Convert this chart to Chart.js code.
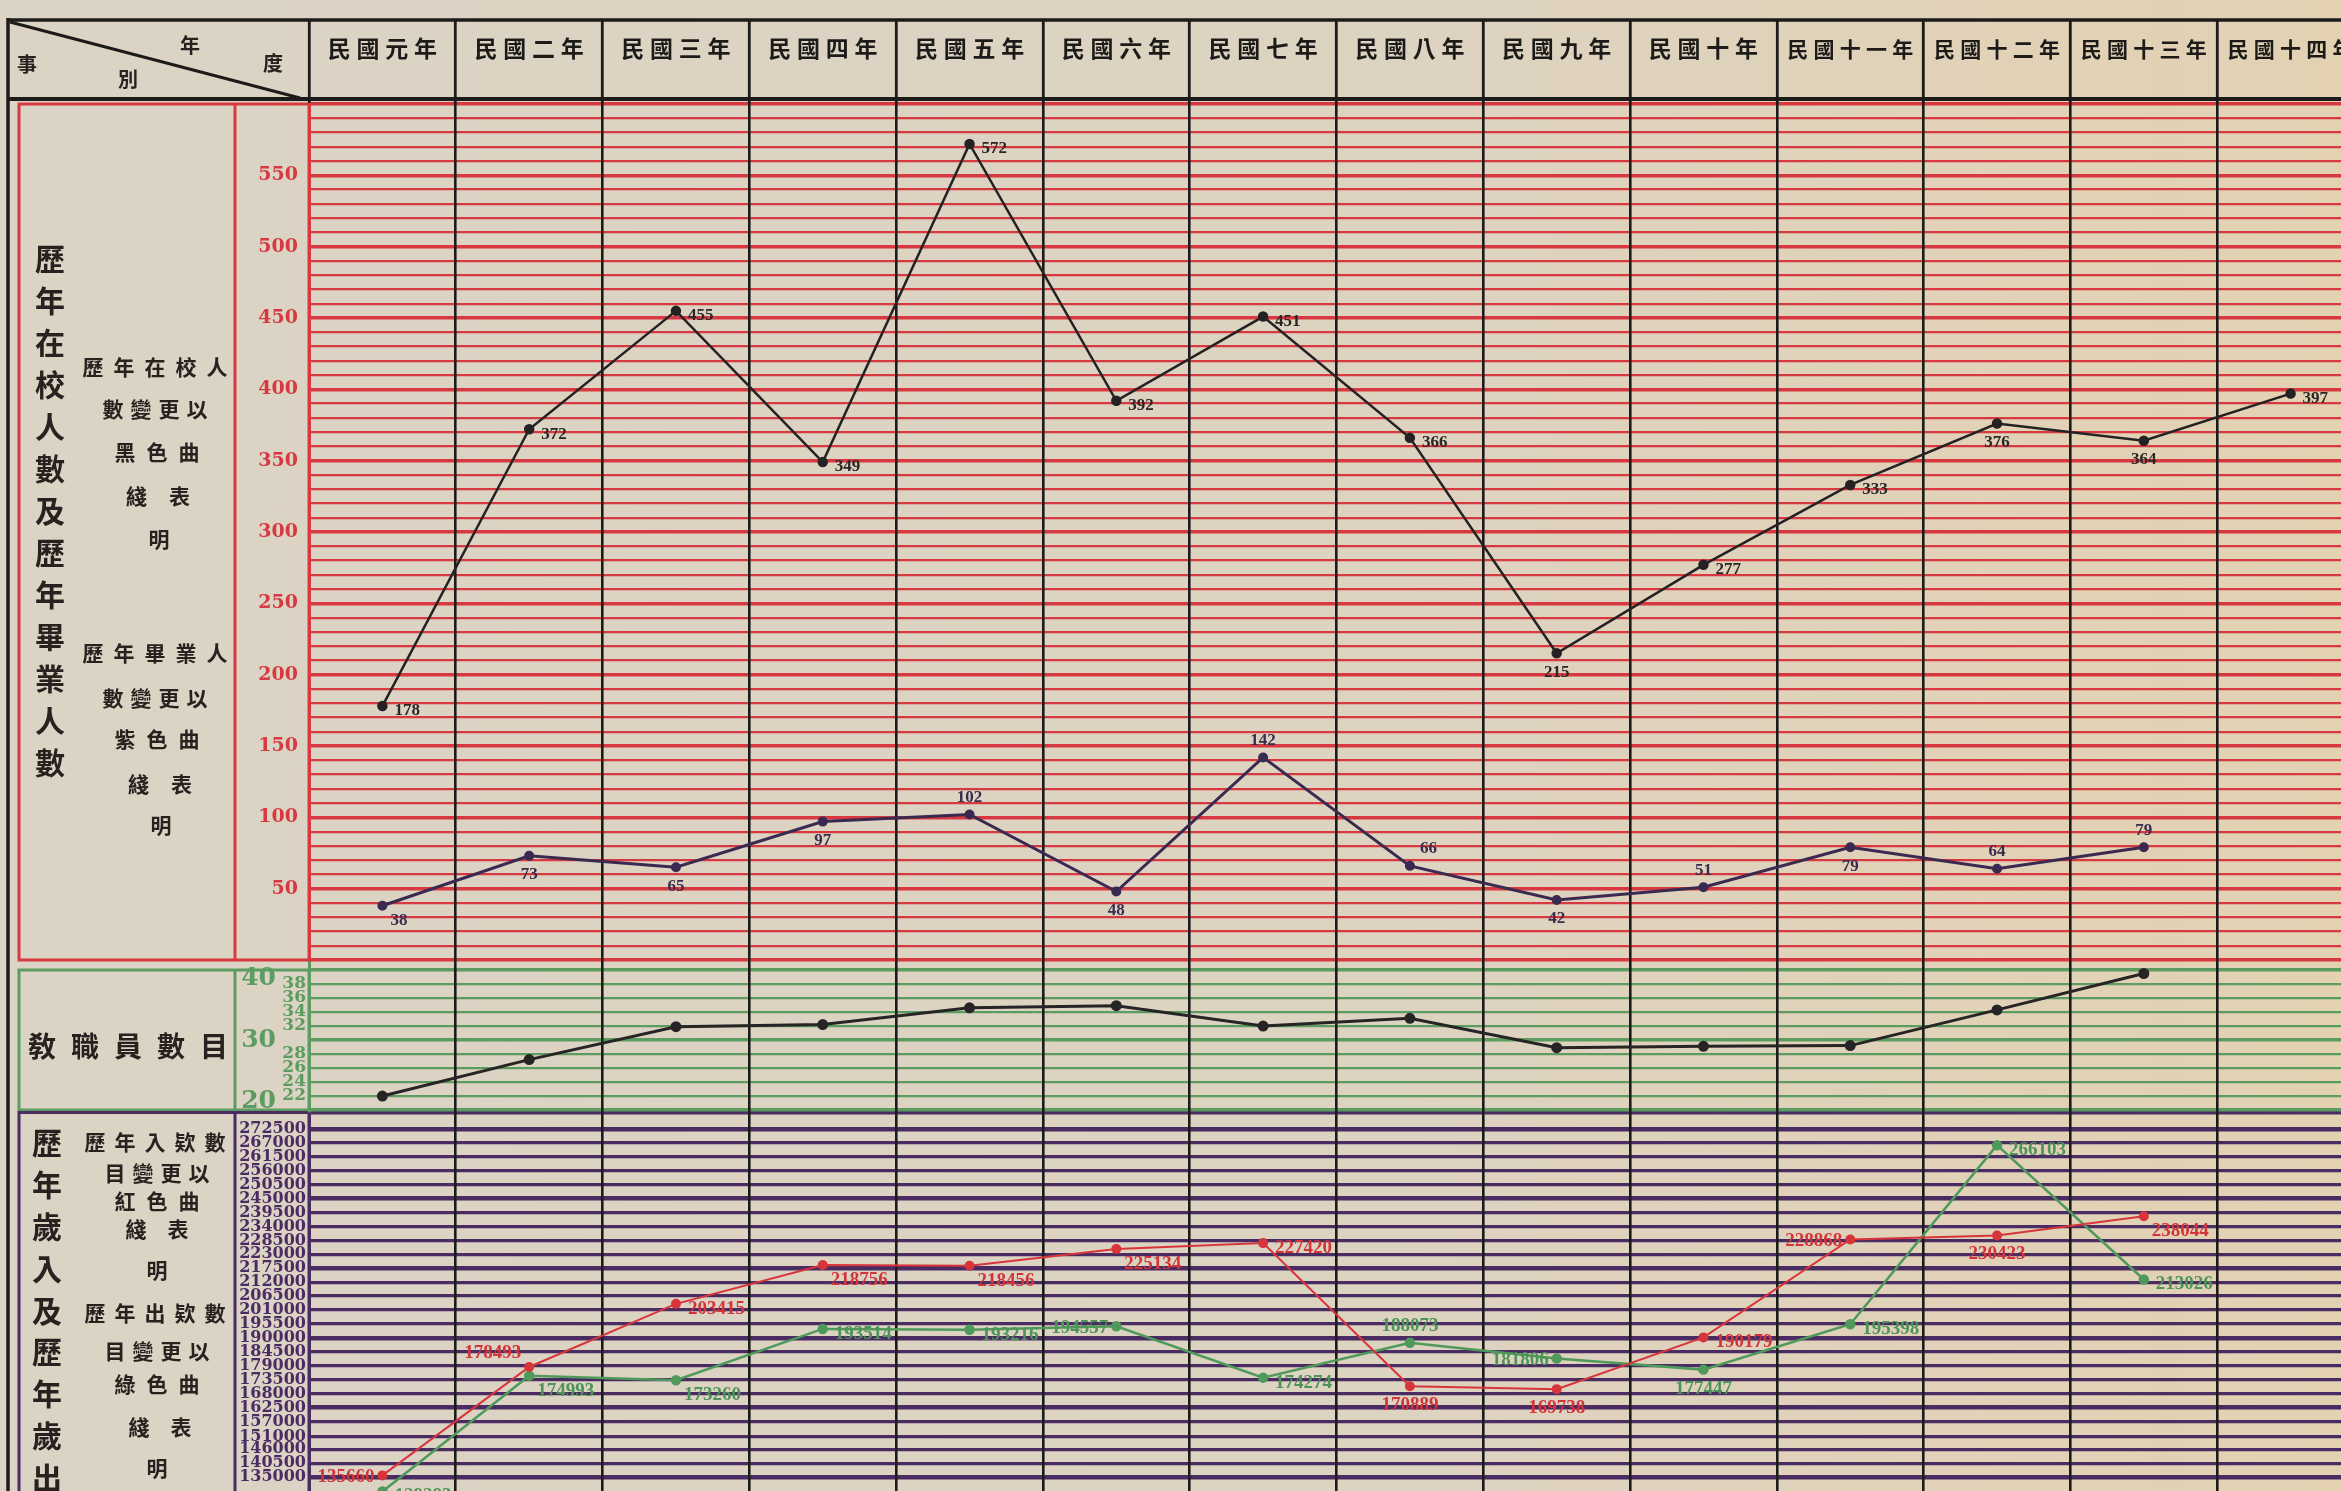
<!DOCTYPE html>
<html lang="zh-Hant">
<head>
<meta charset="utf-8">
<title>歷年在校人數及歷年畢業人數</title>
<script src="https://cdn.jsdelivr.net/npm/chart.js@4.4.1/dist/chart.umd.min.js"></script>
<style>
  html, body { margin: 0; padding: 0; width: 2341px; height: 1491px; overflow: hidden; }
  body { background: linear-gradient(90deg, #dbd3c4 0%, #ddd3c1 60%, #e3d1b2 100%); }
  #wrap { position: relative; width: 2341px; height: 1491px; overflow: hidden; }
  #chart { position: absolute; left: 0; top: 0; }
  .txt { position: absolute; font-family: "Noto Sans CJK TC", sans-serif; font-weight: 700;
         color: #27221f; white-space: nowrap; line-height: 1; }
</style>
</head>
<body>
<div id="wrap">
  <canvas id="chart" width="2380" height="1491"></canvas>
</div>
<script>
// 年度
const years = ['民國元年', '民國二年', '民國三年', '民國四年', '民國五年', '民國六年', '民國七年',
               '民國八年', '民國九年', '民國十年', '民國十一年', '民國十二年', '民國十三年', '民國十四年'];

// 歷年在校人數 (黑色曲綫)
const enrolled = [178, 372, 455, 349, 572, 392, 451, 366, 215, 277, 333, 376, 364, 397];
// 歷年畢業人數 (紫色曲綫)
const graduates = [38, 73, 65, 97, 102, 48, 142, 66, 42, 51, 79, 64, 79];
// 敎職員數目
const staff = [22, 27.2, 31.9, 32.2, 34.6, 34.9, 32, 33.1, 28.9, 29.1, 29.2, 34.3, 39.5];
// 歷年入欵數 (紅色曲綫)
const income = [135660, 178493, 203415, 218756, 218456, 225134, 227420, 170889, 169738, 190179, 228868, 230423, 238044];
// 歷年出欵數 (綠色曲綫)
const expenditure = [129283, 174993, 173260, 193514, 193216, 194557, 174274, 188073, 181806, 177447, 195398, 266103, 213026];

// 刻度
const enrollTicks = ['50', '100', '150', '200', '250', '300', '350', '400', '450', '500', '550'];
const staffTicks = ['20', '22', '24', '26', '28', '30', '32', '34', '36', '38', '40'];
const moneyTicks = ['135000', '140500', '146000', '151000', '157000', '162500', '168000', '173500', '179000',
                    '184500', '190000', '195500', '201000', '206500', '212000', '217500', '223000', '228500',
                    '234000', '239500', '245000', '250500', '256000', '261500', '267000', '272500'];

const ink = '#1d1b1a';
const red = '#d8383f';
const green = '#5c9c60';
const purple = '#4a2b62';

// 左側文字
const wrap = document.getElementById('wrap');
function put(text, x, y, size, gap, vertical) {
  const d = document.createElement('div');
  d.className = 'txt';
  d.textContent = text;
  d.style.fontSize = size + 'px';
  d.style.letterSpacing = gap + 'px';
  if (vertical) {
    d.style.writingMode = 'vertical-rl';
    d.style.left = (x - size / 2) + 'px';
    d.style.top = (y - size / 2) + 'px';
  } else {
    d.style.left = x + 'px';
    d.style.top = y + 'px';
    d.style.paddingLeft = gap + 'px';
    d.style.transform = 'translate(-50%, -50%)';
  }
  wrap.appendChild(d);
}

put('年', 190, 45, 20, 0);
put('度', 273, 63, 20, 0);
put('事', 27, 64, 20, 0);
put('別', 128, 79, 20, 0);

put('歷年在校人數及歷年畢業人數', 50, 259, 30, 12, true);
put('歷年在校人', 155, 366, 21, 10);
put('數變更以', 155, 408, 21, 7);
put('黑色曲', 157, 451, 21, 11);
put('綫表', 158, 495, 21, 22);
put('明', 159, 538, 21, 0);
put('歷年畢業人', 155, 652, 21, 10);
put('數變更以', 155, 697, 21, 7);
put('紫色曲', 157, 738, 21, 11);
put('綫表', 160, 783, 21, 22);
put('明', 161, 824, 21, 0);

put('敎職員數目', 128, 1045, 28, 15);

put('歷年歲入及歷年歲出', 47, 1143, 30, 11.8, true);
put('歷年入欵數', 155, 1141, 21, 9);
put('目變更以', 157, 1172, 21, 7);
put('紅色曲', 157, 1200, 21, 11);
put('綫表', 157, 1228, 21, 21);
put('明', 157, 1269, 21, 0);
put('歷年出欵數', 155, 1312, 21, 9);
put('目變更以', 157, 1350, 21, 7);
put('綠色曲', 157, 1383, 21, 11);
put('綫表', 160, 1426, 21, 21);
put('明', 157, 1467, 21, 0);

// 表框
const framePlugin = {
  id: 'frame',
  beforeDraw(chart) {
    const c = chart.ctx;
    const a = chart.chartArea;
    const yt = chart.scales.yTop, ym = chart.scales.yMid, yb = chart.scales.yBot;
    const seg = (x1, y1, x2, y2, col, w) => {
      c.beginPath(); c.moveTo(x1, y1); c.lineTo(x2, y2);
      c.strokeStyle = col; c.lineWidth = w; c.stroke();
    };
    c.save();
    seg(8, 20, a.right, 20, ink, 3.5);
    seg(8, 99, a.right, 99, ink, 4);
    seg(8, 18, 8, 1491, ink, 3.5);
    seg(10, 22, 300, 98, ink, 3);

    const rTop = yt.getPixelForValue(600), rBot = yt.getPixelForValue(0);
    c.strokeStyle = red; c.lineWidth = 3;
    c.strokeRect(19, rTop, a.left - 19, rBot - rTop);
    seg(235, rTop, 235, rBot, red, 3);

    const gTop = ym.getPixelForValue(40), gBot = ym.getPixelForValue(20);
    c.strokeStyle = green; c.lineWidth = 3;
    c.strokeRect(19, gTop, a.left - 19, gBot - gTop);
    seg(235, gTop, 235, gBot, green, 3);

    const pTop = yb.getPixelForValue(279000);
    c.strokeStyle = purple; c.lineWidth = 3;
    c.strokeRect(19, pTop, a.left - 19, 1491 - pTop + 10);
    seg(235, pTop, 235, 1491, purple, 3);
    c.restore();
  }
};

// 數值標記
const valueLabels = {
  id: 'valueLabels',
  afterDatasetsDraw(chart) {
    const c = chart.ctx;
    chart.data.datasets.forEach((ds, i) => {
      if (!ds.labelPos) return;
      const meta = chart.getDatasetMeta(i);
      c.save();
      c.font = ds.labelFont;
      c.fillStyle = ds.labelColor;
      c.textBaseline = 'middle';
      meta.data.forEach((pt, j) => {
        const pos = ds.labelPos[j];
        let dx = 12, dy = 5, align = 'left';
        if (pos === 'b') { dx = 0; dy = 19; align = 'center'; }
        if (pos === 't') { dx = 0; dy = -17; align = 'center'; }
        if (pos === 'rb') { dx = 8; dy = 15; }
        if (pos === 'tr') { dx = 10; dy = -17; }
        if (pos === 'l') { dx = -8; dy = 2; align = 'right'; }
        if (pos === 'tl') { dx = -8; dy = -14; align = 'right'; }
        c.textAlign = align;
        c.fillText(String(ds.data[j]), pt.x + dx, pt.y + dy);
      });
      c.restore();
    });
  }
};

const serif = 'DejaVu Serif';
const cjk = '"Noto Sans CJK TC", sans-serif';

new Chart(document.getElementById('chart'), {
  type: 'line',
  data: {
    labels: years,
    datasets: [
      {
        label: '歷年在校人數', data: enrolled, yAxisID: 'yTop',
        borderColor: '#242222', backgroundColor: '#242222', borderWidth: 2.5, pointRadius: 4,
        labelPos: ['r', 'r', 'r', 'r', 'r', 'r', 'r', 'r', 'b', 'r', 'r', 'b', 'b', 'r'],
        labelFont: 'bold 17px "Liberation Serif"', labelColor: '#2a2727'
      },
      {
        label: '歷年畢業人數', data: graduates, yAxisID: 'yTop',
        borderColor: '#3a2950', backgroundColor: '#3a2950', borderWidth: 3, pointRadius: 3.5,
        labelPos: ['rb', 'b', 'b', 'b', 't', 'b', 't', 'tr', 'b', 't', 'b', 't', 't'],
        labelFont: 'bold 17px "Liberation Serif"', labelColor: '#3a2d4d'
      },
      {
        label: '敎職員數目', data: staff, yAxisID: 'yMid',
        borderColor: '#262424', backgroundColor: '#262424', borderWidth: 3, pointRadius: 4
      },
      {
        label: '歷年入欵數', data: income, yAxisID: 'yBot',
        borderColor: '#d8353b', backgroundColor: '#d8353b', borderWidth: 2, pointRadius: 4,
        labelPos: ['l', 'tl', 'r', 'rb', 'rb', 'rb', 'r', 'b', 'b', 'r', 'l', 'b', 'rb'],
        labelFont: 'bold 19px "Liberation Serif"', labelColor: '#d3343a'
      },
      {
        label: '歷年出欵數', data: expenditure, yAxisID: 'yBot',
        borderColor: '#4f9a5b', backgroundColor: '#4f9a5b', borderWidth: 2.5, pointRadius: 4,
        labelPos: ['r', 'rb', 'rb', 'r', 'r', 'l', 'r', 't', 'l', 'b', 'r', 'r', 'r'],
        labelFont: 'bold 19px "Liberation Serif"', labelColor: '#4c9457'
      }
    ]
  },
  options: {
    responsive: false,
    animation: false,
    devicePixelRatio: 1,
    layout: { autoPadding: false, padding: { left: 235, top: 20, right: 16, bottom: 0 } },
    plugins: { legend: { display: false }, tooltip: { enabled: false } },
    scales: {
      yBot: {
        type: 'linear', position: 'left', stack: 'page', stackWeight: 380,
        min: 129500, max: 279600,
        afterBuildTicks: s => {
          s.ticks = moneyTicks.map(t => ({ value: Number(t) }));
          s.ticks.push({ value: 279000 });
        },
        afterFit: s => { s.width = 74; s.paddingTop = 0; s.paddingBottom = 0; },
        grid: {
          color: purple, drawTicks: false,
          lineWidth: ctx => (ctx.tick.value === 279000 || (ctx.tick.value - 135000) % 27500 === 0) ? 4.6 : 3.2
        },
        border: { color: purple, width: 3 },
        ticks: {
          autoSkip: false, padding: 3, color: purple,
          font: { family: serif, size: 16, weight: 'bold' },
          callback: v => moneyTicks.includes(String(v)) ? String(v) : ''
        }
      },
      yMid: {
        type: 'linear', position: 'left', stack: 'page', stackWeight: 151,
        min: 19.86, max: 41.43,
        afterBuildTicks: s => { s.ticks = staffTicks.map(t => ({ value: Number(t) })); },
        afterFit: s => { s.width = 74; s.paddingTop = 0; s.paddingBottom = 0; },
        grid: {
          color: green, drawTicks: false,
          lineWidth: ctx => ctx.tick.value % 10 === 0 ? 3.4 : 2.3
        },
        border: { color: green, width: 3 },
        ticks: {
          autoSkip: false, padding: 3, color: green,
          font: ctx => (ctx.tick && ctx.tick.value % 10 === 0)
            ? { family: serif, size: 25, weight: 'bold', lineHeight: 0.7 }
            : { family: serif, size: 17, weight: 'bold' },
          callback: v => {
            if (v === 40) return ['', '40\u2003\u2009'];
            if (v === 20) return ['20\u2003\u2009', ''];
            if (v === 30) return '30\u2003\u2009';
            return String(v);
          }
        }
      },
      yTop: {
        type: 'linear', position: 'left', stack: 'page', stackWeight: 856,
        min: 0, max: 600,
        afterBuildTicks: s => {
          s.ticks = [];
          for (let v = 0; v <= 600; v += 10) s.ticks.push({ value: v });
        },
        afterFit: s => { s.width = 74; s.paddingTop = 0; s.paddingBottom = 0; },
        grid: {
          color: red, drawTicks: false,
          lineWidth: ctx => ctx.tick.value % 50 === 0 ? 3.6 : 2.2
        },
        border: { color: red, width: 3 },
        ticks: {
          autoSkip: false, padding: 11, color: red,
          font: { family: serif, size: 19, weight: 'bold' },
          callback: v => enrollTicks.includes(String(v)) ? String(v) : ''
        }
      },
      x: {
        type: 'category', position: 'top', offset: true,
        afterFit: s => { s.height = 84; s.paddingLeft = 0; s.paddingRight = 0; },
        grid: {
          offset: true, color: ink, lineWidth: 2.6,
          drawTicks: true, tickLength: 84, tickColor: ink, tickWidth: 2.8
        },
        border: { display: false },
        ticks: {
          autoSkip: false, maxRotation: 0, minRotation: 0, padding: -42, color: ink,
          font: ctx => ({ family: cjk, size: years[ctx.index] && years[ctx.index].length > 4 ? 21 : 23, weight: 'bold' }),
          callback: (v, i) => years[i].split('').join('\u2005')
        }
      }
    }
  },
  plugins: [framePlugin, valueLabels]
});
</script>
</body>
</html>
